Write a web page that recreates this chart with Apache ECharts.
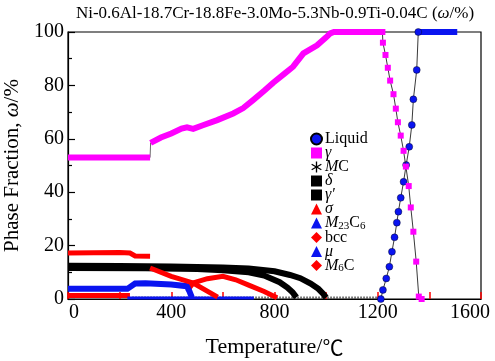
<!DOCTYPE html>
<html><head><meta charset="utf-8">
<script src="https://cdn.jsdelivr.net/npm/echarts@6/dist/echarts.min.js"></script>
<style>html,body{margin:0;padding:0;background:#fff}#c{width:495px;height:361px}</style>
</head><body><div id="c"></div>
<script>
// ---- data ----
const xTickValues = [0, 400, 800, 1200, 1600];
const yTickValues = [0, 20, 40, 60, 80, 100];
const legendNames = ['Liquid', 'γ', 'MC', 'δ', 'γ′', 'σ', 'M23C6', 'bcc', 'μ', 'M6C'];

const liquidCurve = [[1212,0],[1220,3.4],[1233,7.7],[1245,12.1],[1255,17.7],[1265,23.1],[1274,28.6],[1280,32.7],[1289,37.9],[1300,43.9],[1310,50.2],[1322,57.0],[1332,65.2],[1338,74.8],[1351,85.8],[1357,100]];
const liquidTop = [[1357,100],[1508,100]];

const gammaLow = [[0,53],[318,53]];
const gammaRise = [[320,58.5],[360,60.5],[400,62],[440,63.8],[461,64.3],[485,63.7],[520,65],[578,67],[640,69.5],[679,71.5],[717,74.5],[760,78],[795,81],[840,84.5],[872,87],[912,92],[965,95],[1000,98],[1016,99.5],[1030,100],[1218,100]];
const gammaFall = [[1218,100],[1220,96.0],[1230,91.4],[1239,86.6],[1248,81.8],[1261,76.7],[1270,71.3],[1278,66.2],[1289,61.2],[1300,55.5],[1309,49.6],[1320,42.3],[1328,34.3],[1338,25.2],[1349,14.0],[1359,0.9],[1370,0]];

const mcPts = [[250,0.6],[1210,0.6]];
const deltaPts = [[0,12.5],[200,12.4],[400,12.2],[600,11.8],[700,11.4],[800,10.4],[860,9.0],[900,7.8],[940,5.8],[970,3.8],[990,1.8],[1000,0.5]];
const gammaPrimePts = [[0,11.6],[300,11.5],[500,11.2],[600,10.8],[700,10.0],[760,8.8],[820,6.3],[850,4.3],[870,2.5],[885,0.6]];
const sigmaPts = [[0,1.3],[240,1.3]];
const sigmaHigh = [[465,3.5],[485,6],[540,7.6],[600,8.5],[650,7.2],[700,5.2],[760,2.8],[810,0.5]];
const m23c6Pts = [[230,0.4],[720,0.4]];
const bccPts = [[0,17.2],[200,17.4],[240,17.2],[260,16.1],[318,16]];
const muPts = [[0,3.8],[230,3.8],[260,5.8],[300,5.9],[400,5.4],[460,4.8],[470,3],[480,0.5]];
const m6cPts = [[318,11.6],[400,8.5],[485,6],[580,0.7]];

// ---- styling ----
const SERIF = 'Liberation Serif';
const BLUE = '#0a14f0', MAG = '#ff00ff', RED = '#ff0000', BLK = '#000000';
const asterisk = 'path://M4.4,0h1.2v4.0l3.5-2 .6 1-3.5 2 3.5 2-.6 1-3.5-2V10h-1.2V6l-3.5 2-.6-1 3.5-2-3.5-2 .6-1 3.5 2z';
const legendIcons = {
  'Liquid': 'circle', 'γ': 'rect', 'MC': asterisk, 'δ': 'rect', 'γ′': 'rect',
  'σ': 'triangle', 'M23C6': 'triangle', 'bcc': 'diamond', 'μ': 'triangle', 'M6C': 'diamond'
};
const legendLabels = {
  'Liquid': 'Liquid', 'γ': '{i|γ}', 'MC': '{i|M}C', 'δ': '{i|δ}', 'γ′': '{i|γ′}',
  'σ': '{i|σ}', 'M23C6': '{i|M}{s|23}C{s|6}', 'bcc': 'bcc', 'μ': '{i|μ}', 'M6C': '{i|M}{s|6}C'
};

function band(name, data, color, width, z) {
  return { name, type: 'line', data, color, symbol: 'none', z: z || 2,
    lineStyle: { color, width: width || 6, cap: 'butt', join: 'miter' } };
}

const chart = echarts.init(document.getElementById('c'), null, { renderer: 'canvas' });
chart.setOption({
  animation: false,
  backgroundColor: '#fff',
  title: {
    text: 'Ni-0.6Al-18.7Cr-18.8Fe-3.0Mo-5.3Nb-0.9Ti-0.04C ({i|ω}/%)',
    left: 275, top: 5, textAlign: 'center', padding: 0,
    textStyle: { fontFamily: SERIF, fontSize: 17, fontWeight: 'normal', color: '#000',
      rich: { i: { fontFamily: SERIF, fontSize: 17, fontStyle: 'italic', color: '#000' } } }
  },
  grid: { left: 68, top: 32, right: 14, bottom: 62, containLabel: false, outerBoundsMode: 'none',
    show: true, borderColor: '#000', borderWidth: 1.2 },
  legend: {
    orient: 'vertical', left: 310, top: 131, padding: 0, itemWidth: 11, itemHeight: 11, itemGap: -2,
    data: legendNames.map(n => ({ name: n, icon: legendIcons[n] })),
    formatter: n => legendLabels[n],
    textStyle: { fontFamily: SERIF, fontSize: 16, color: '#000', padding: [0,0,0,-2],
      rich: {
        i: { fontFamily: SERIF, fontSize: 16, fontStyle: 'italic', color: '#000' },
        s: { fontFamily: SERIF, fontSize: 11, color: '#000', padding: [6,0,0,0] }
      } }
  },
  xAxis: {
    type: 'value', min: 0, max: 1600, interval: 200,
    name: 'Temperature/{c|℃}', nameLocation: 'middle', nameGap: 37,
    nameTextStyle: { fontFamily: SERIF, fontSize: 22, color: '#000',
      rich: { c: { fontFamily: 'Noto Sans CJK SC', fontSize: 21, color: '#000' } } },
    axisLine: { lineStyle: { color: '#000', width: 1.2 } },
    axisTick: { inside: true, length: 7, lineStyle: { color: RED, width: 1.5 } },
    axisLabel: { fontFamily: SERIF, fontSize: 20, color: '#000', margin: 4,
      formatter: v => v === 0 ? '{a|0}' : (v === 1600 ? '{b|1600}' : (xTickValues.indexOf(v) >= 0 ? String(v) : '')),
      rich: { a: { fontFamily: SERIF, fontSize: 20, color: '#000', padding: [0,0,0,12] },
              b: { fontFamily: SERIF, fontSize: 20, color: '#000', padding: [0,22,0,0] } } },
    splitLine: { show: false }
  },
  yAxis: {
    type: 'value', min: 0, max: 100, interval: 20,
    name: '{n|Phase Fraction, }{i|ω}{n|/%}', nameLocation: 'middle', nameGap: 37, nameRotate: 90,
    nameTextStyle: { fontFamily: SERIF, fontSize: 21, color: '#000',
      rich: { n: { fontFamily: SERIF, fontSize: 21, color: '#000' },
              i: { fontFamily: SERIF, fontSize: 21, fontStyle: 'italic', color: '#000' } } },
    axisLine: { show: true, lineStyle: { color: '#000', width: 1.2 } },
    axisTick: { inside: true, length: 7, lineStyle: { color: '#000', width: 1.2 } },
    minorTick: { show: true, splitNumber: 2, length: 4, lineStyle: { color: '#000', width: 1.2 } },
    axisLabel: { fontFamily: SERIF, fontSize: 20, color: '#000', margin: 4,
      formatter: v => yTickValues.indexOf(v) >= 0 ? String(v) : '' },
    splitLine: { show: false }
  },
  series: [
    { name: 'Liquid', type: 'line', data: liquidCurve, color: BLUE, symbol: 'circle', symbolSize: 7, z: 3,
      itemStyle: { color: BLUE, borderColor: '#000', borderWidth: 0.4 },
      lineStyle: { color: '#222', width: 0.9 } },
    band('Liquid', liquidTop, BLUE, 6, 3),
    { name: 'gline', type: 'line', data: gammaLow.concat(gammaRise), symbol: 'none', z: 2,
      lineStyle: { color: '#444', width: 0.8 } },
    band('γ', gammaLow, MAG, 6, 4),
    band('γ', gammaRise, MAG, 6, 4),
    { name: 'γ', type: 'line', data: gammaFall, color: MAG, symbol: 'rect', symbolSize: 6, z: 4,
      itemStyle: { color: MAG }, lineStyle: { color: '#222', width: 0.9 } },
    { name: 'MC', type: 'line', data: mcPts, color: BLK, symbol: 'none', z: 2,
      lineStyle: { color: BLK, width: 2, type: [1, 2] } },
    band('δ', deltaPts, BLK, 6, 2),
    band('γ′', gammaPrimePts, BLK, 6, 2),
    band('σ', sigmaPts, RED, 5, 3),
    band('σ', sigmaHigh, RED, 5, 3),
    band('M23C6', m23c6Pts, BLUE, 3, 3),
    band('bcc', bccPts, RED, 5, 3),
    band('μ', muPts, BLUE, 6, 3),
    band('M6C', m6cPts, RED, 5, 3)
  ]
});
</script>
</body></html>
